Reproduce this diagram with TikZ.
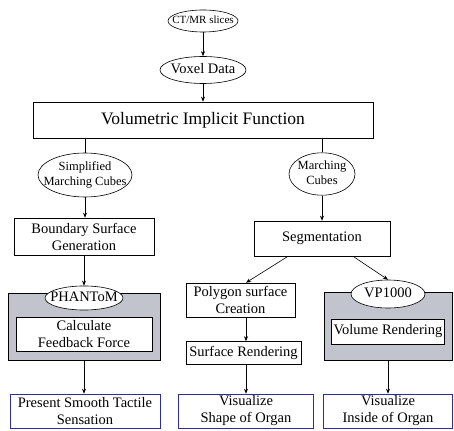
\documentclass[tikz,border=0pt]{standalone}
\usepackage{fontspec}
\setmainfont{Liberation Serif}
\usetikzlibrary{arrows.meta,shapes.geometric}

\definecolor{panelgrey}{RGB}{193,196,205}
\definecolor{outblue}{RGB}{45,45,155}
\newcommand{\ovaltext}[1]{\makebox[0pt]{\begin{tabular}{@{}c@{}}#1\end{tabular}}}

\tikzset{
    box/.style={draw,rectangle,align=center,inner sep=1pt,fill=white,
        font=\fontsize{14.5}{17}\selectfont},
    oval/.style={draw,ellipse,inner sep=0pt,fill=white},
    outbox/.style={box,draw=outblue},
    panel/.style={draw,rectangle,fill=panelgrey},
    flow/.style={-{Stealth[length=5pt,width=4pt]}},
}

\begin{document}
\begin{tikzpicture}[x=1pt,y=-1pt,line width=0.6pt]
    \useasboundingbox (0,0) rectangle (454,430);

    % top of the chain
    \node[oval,minimum width=70pt,minimum height=22pt,font=\fontsize{11}{13}\selectfont] (ct) at (203,21) {\ovaltext{CT/MR slices}};
    \node[oval,minimum width=86pt,minimum height=27pt,font=\fontsize{14.5}{17}\selectfont] (voxel) at (203,70) {\ovaltext{Voxel Data}};
    \node[box,minimum width=340pt,minimum height=36pt,font=\fontsize{17.5}{20}\selectfont] (vif) at (203,120) {Volumetric Implicit Function};

    % haptic branch
    \node[oval,minimum width=94pt,minimum height=44pt,font=\fontsize{12.5}{15}\selectfont] (smc) at (85,175) {\ovaltext{Simplified\\Marching Cubes}};
    \node[box,minimum width=140pt,minimum height=37pt] (bsg) at (84,236.5) {Boundary Surface\\Generation};
    \node[panel,minimum width=152pt,minimum height=67pt] (phpanel) at (84,326.5) {};
    \node[oval,minimum width=78pt,minimum height=24pt,font=\fontsize{14.5}{17}\selectfont] (phantom) at (84,298) {\ovaltext{PHANToM}};
    \node[box,minimum width=136pt,minimum height=34pt] (calc) at (84,334) {Calculate\\Feedback Force};
    \node[outbox,minimum width=150pt,minimum height=34pt] (present) at (85,411) {Present Smooth Tactile\\Sensation};

    % visual branch
    \node[oval,minimum width=66pt,minimum height=38pt,font=\fontsize{12.5}{15}\selectfont] (mc) at (322,174) {\ovaltext{Marching\\Cubes}};
    \node[box,minimum width=136pt,minimum height=35pt] (seg) at (322,238.5) {Segmentation};
    \node[box,minimum width=109pt,minimum height=34pt] (poly) at (240.5,300) {Polygon surface\\Creation};
    \node[box,minimum width=115pt,minimum height=23pt] (surf) at (243.5,353) {Surface Rendering};
    \node[outbox,minimum width=135pt,minimum height=34pt] (shape) at (246,411) {Visualize\\Shape of Organ};

    \node[panel,minimum width=128pt,minimum height=68pt] (vppanel) at (388,326) {};
    \node[oval,minimum width=74pt,minimum height=28pt,font=\fontsize{14.5}{17}\selectfont] (vp) at (388,294) {\ovaltext{VP1000}};
    \node[box,minimum width=113pt,minimum height=25pt] (vol) at (388,331.5) {Volume Rendering};
    \node[outbox,minimum width=129pt,minimum height=34pt] (inside) at (388,411) {Visualize\\Inside of Organ};

    % connectors
    \draw[flow] (ct) -- (voxel);
    \draw[flow] (voxel) -- (vif);
    \draw (smc.north |- vif.south) -- (smc.north);
    \draw (mc.north |- vif.south) -- (mc.north);
    \draw[flow] (smc.south) -- (smc.south |- bsg.north);
    \draw[flow] (bsg.south) -- (phantom.north);
    \draw[flow] (phpanel.south) -- (phpanel.south |- present.north);
    \draw[flow] (mc.south) -- (seg.north);
    \draw[flow] ([xshift=-34pt]seg.south) -- (poly.north -| shape.north);
    \draw[flow] ([xshift=31pt]seg.south) -- (vp.north);
    \draw[flow] (poly.south -| shape.north) -- (surf.north -| shape.north);
    \draw[flow] (surf.south -| shape.north) -- (shape.north);
    \draw[flow] (vppanel.south) -- (inside.north);
\end{tikzpicture}
\end{document}
